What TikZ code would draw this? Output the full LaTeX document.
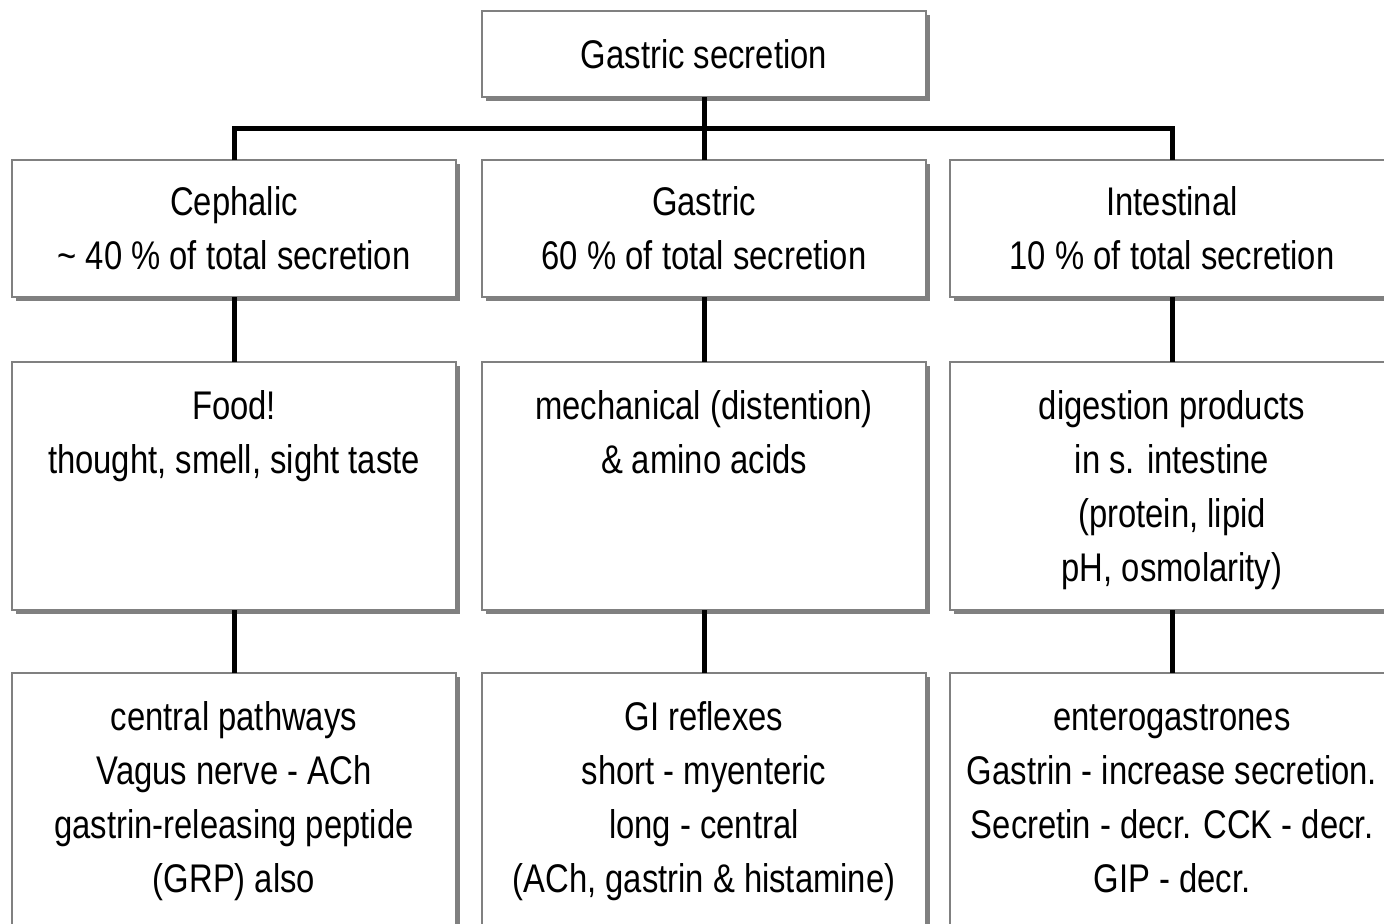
\documentclass[tikz,border=0pt]{standalone}
\usepackage{fontspec}
\setmainfont[FakeStretch=0.82]{Liberation Sans}
\usetikzlibrary{shadows}

\definecolor{boxgray}{RGB}{128,128,128}

\tikzset{
  box/.style={draw=boxgray, line width=1pt, fill=white, minimum width=222pt,
    inner xsep=4pt, outer sep=0pt, font=\fontsize{20pt}{27pt}\selectfont,
    drop shadow={shadow xshift=2pt, shadow yshift=-2pt, fill=boxgray, opacity=1}},
  headbox/.style={box, align=center, minimum height=#1},
  tallbox/.style={box, minimum height=#1, inner ysep=10pt,
    execute at begin node={\begin{minipage}[t][\dimexpr#1-20pt\relax][t]{212pt}\centering\strut},
    execute at end node={\end{minipage}}},
  link/.style={line width=2.5pt}
}

\begin{document}
\begin{tikzpicture}[x=0.5pt, y=-0.5pt]
\useasboundingbox (0,0) rectangle (1384,923);

% Top box
\node[headbox=43pt] (top) at (704,54) {Gastric secretion};

% Phases
\node[headbox=68.5pt] (cep1) at (234,228.5) {Cephalic\\ \textasciitilde\ 40 \% of total secretion};
\node[headbox=68.5pt] (gas1) at (704,228.5) {Gastric\\ 60 \% of total secretion};
\node[headbox=68.5pt] (int1) at (1172,228.5) {Intestinal\\ 10 \% of total secretion};

% Stimuli
\node[tallbox=124pt] (cep2) at (234,486) {Food!\\ thought, smell, sight taste};
\node[tallbox=124pt] (gas2) at (704,486) {mechanical (distention)\\ \& amino acids};
\node[tallbox=124pt] (int2) at (1172,486) {digestion products\\ in s. intestine\\ (protein, lipid\\ pH, osmolarity)};

% Mechanisms (cut off at the bottom)
\node[tallbox=135pt] (cep3) at (234,808) {central pathways\\ Vagus nerve - ACh\\ gastrin-releasing peptide\\ (GRP) also};
\node[tallbox=135pt] (gas3) at (704,808) {GI reflexes\\ short - myenteric\\ long - central\\ (ACh, gastrin \& histamine)};
\node[tallbox=135pt] (int3) at (1172,808) {enterogastrones\\ Gastrin - increase secretion.\\ Secretin - decr. CCK - decr.\\ GIP - decr.};

% Connectors
\coordinate (bus) at (704,128);
\draw[link] (top.south) -- (bus);
\draw[link] (cep1.north) |- (bus) -| (int1.north);
\draw[link] (bus) -- (gas1.north);
\foreach \c in {cep,gas,int} {
  \draw[link] (\c1.south) -- (\c2.north);
  \draw[link] (\c2.south) -- (\c3.north);
}

\end{tikzpicture}
\end{document}
